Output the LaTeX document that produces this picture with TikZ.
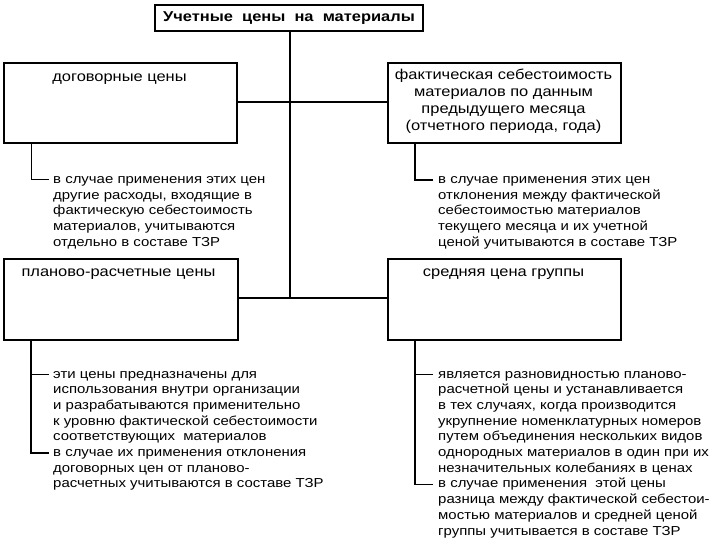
\documentclass[tikz,border=0pt]{standalone}
\usepackage{fontspec}
\setmainfont{Liberation Sans}[FakeStretch=1.15]
\newcommand\notefont{\fontsize{13}{15.7}\selectfont}
\newcommand\headfont{\fontsize{14.3}{17}\selectfont}
\newcommand\lns[1]{\begin{tabular}[t]{@{}l@{}}#1\end{tabular}}
\newcommand\clns[1]{\begin{tabular}{@{}c@{}}#1\end{tabular}}
\tikzset{
  box/.style={draw, line width=1.6pt, anchor=north west, inner sep=0pt},
  boxtext/.style={anchor=base, inner sep=0pt, font=\headfont},
  note/.style={anchor=base west, inner sep=0pt, font=\notefont},
  trunk/.style={line width=2.2pt},
  link/.style={line width=1.4pt},
  brace/.style={line width=1.6pt},
}
\begin{document}
\begin{tikzpicture}[x=1pt,y=-1pt]
\useasboundingbox (0,0) rectangle (720,540);
% title
\node[draw, line width=1.6pt, minimum width=268pt, minimum height=26pt, inner sep=0pt,
  font=\headfont\bfseries] (title) at (289,18)
  {Учетные\ \ цены\ \ на\ \ материалы};
% boxes
\node[box, minimum width=233pt, minimum height=80pt] (b1) at (3,62) {};
\node[box, minimum width=233pt, minimum height=80pt] (b2) at (387,62) {};
\node[box, minimum width=234pt, minimum height=81pt] (b3) at (3,258) {};
\node[box, minimum width=233pt, minimum height=81pt] (b4) at (387,258) {};
\node[boxtext] (b1t) at (119.5,81.5) {договорные цены};
\node[inner sep=0pt, font=\headfont] (b2t) at (503.5,102)
  {\clns{фактическая себестоимость\\материалов по данным\\предыдущего месяца\\(отчетного периода, года)}};
\node[boxtext] (b3t) at (118.5,276.5) {планово-расчетные цены};
\node[boxtext] (b4t) at (503.5,276.5) {средняя цена группы};
% trunk and links
\coordinate (j1) at (290,102);
\coordinate (j2) at (290,298);
\draw[trunk] (title.south -| j1) -- (j2);
\draw[link] (b1.east |- j1) -- (j1);
\draw[link] (b2.west |- j1) -- (j1);
\draw[link] (b3.east |- j2) -- (j2);
\draw[link] (b4.west |- j2) -- (j2);
% notes
\node[note] (n1) at (53,183.5) {\lns{в случае применения этих цен\\другие расходы, входящие в\\фактическую себестоимость\\материалов, учитываются\\отдельно в составе ТЗР}};
\node[note] (n2) at (438,183.5) {\lns{в случае применения этих цен\\отклонения между фактической\\себестоимостью материалов\\текущего месяца и их учетной\\ценой учитываются в составе ТЗР}};
\node[note] (n3a) at (53,378) {\lns{эти цены предназначены для\\использования внутри организации\\и разрабатываются применительно\\к уровню фактической себестоимости\\соответствующих\ \ материалов}};
\node[note] (n3b) at (53,456.5) {\lns{в случае их применения отклонения\\договорных цен от планово-\\расчетных учитываются в составе ТЗР}};
\node[note] (n4a) at (438,378) {\lns{является разновидностью планово-\\расчетной цены и устанавливается\\в тех случаях, когда производится\\укрупнение номенклатурных номеров\\путем объединения нескольких видов\\однородных материалов в один при их\\незначительных колебаниях в ценах}};
\node[note] (n4b) at (438,487.9) {\lns{в случае применения\ \ этой цены\\разница между фактической себестои-\\мостью материалов и средней ценой\\группы учитывается в составе ТЗР}};
% note connectors
\coordinate (c1) at (49,180);
\coordinate (c2) at (433,180);
\coordinate (c3a) at (49,374.5);
\coordinate (c3b) at (49,453);
\coordinate (c4a) at (433,374.5);
\coordinate (c4b) at (433,484.4);
\draw[line width=1pt] (b1.south -| 31,0) |- (c1);
\draw[brace] (b2.south -| 415,0) |- (c2);
\draw[brace] (b3.south -| 31,0) |- (c3b);
\draw[brace] (31,0 |- c3a) -- (c3a);
\draw[brace] (b4.south -| 415,0) |- (c4b);
\draw[brace] (415,0 |- c4a) -- (c4a);
\end{tikzpicture}
\end{document}
